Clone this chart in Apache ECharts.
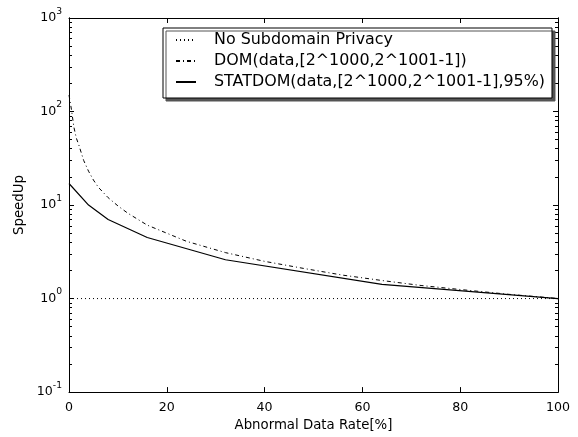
<!DOCTYPE html>
<html>
<head>
<meta charset="utf-8">
<script src="https://cdn.jsdelivr.net/npm/echarts@6/dist/echarts.min.js"></script>
<style>html,body{margin:0;padding:0;background:#fff}#c{width:578px;height:437px}</style>
</head>
<body>
<div id="c"></div>
<script>
// ---- data ----
const seriesNames = [
  'No Subdomain Privacy',
  'DOM(data,[2^1000,2^1001-1])',
  'STATDOM(data,[2^1000,2^1001-1],95%)'
];
const noPrivRate = [0, 100];
const noPrivSpeed = [1, 1];
const domRate = [0, 0.5, 1, 1.5, 2, 3, 4, 5, 6, 8, 10, 12, 16, 20, 24, 32, 40, 48, 56, 64, 72, 80, 90, 100];
const domSpeed = [150, 105, 68, 52, 44, 30, 23, 18.5, 15.5, 12, 9.8, 8.2, 6.1, 5, 4.1, 3.1, 2.5, 2.1, 1.78, 1.56, 1.38, 1.25, 1.11, 1.0];
const statRate = [0, 4, 8, 16, 32, 64, 100];
const statSpeed = [17, 10, 7, 4.5, 2.6, 1.42, 1.0];
const xTicks = [0, 20, 40, 60, 80, 100];
const yDecades = [0.1, 1, 10, 100, 1000];

const pairs = (xs, ys) => xs.map((x, i) => [x, ys[i]]);
const minorVals = [];
yDecades.slice(0, -1).forEach(d => { for (let k = 2; k <= 9; k++) minorVals.push(+(d * k).toPrecision(3)); });

const FONT = 'DejaVu Sans';
const black = '#000';

function yLabel(v) {
  const e = Math.round(Math.log10(v));
  return '{b|10}{s|' + e + '}';
}

const baseY = {
  type: 'log', logBase: 10, min: 0.1, max: 1000,
  splitLine: { show: false },
  axisLine: { show: true, lineStyle: { color: black, width: 1 } }
};

const chart = echarts.init(document.getElementById('c'), null, { renderer: 'canvas' });
chart.setOption({
  animation: false,
  backgroundColor: '#fff',
  grid: { left: 69, right: 20, top: 18, bottom: 40, containLabel: false },
  legend: {
    orient: 'vertical',
    left: 163, top: 28,
    padding: [3, 7, 7, 12],
    itemWidth: 20, itemHeight: 14, itemGap: 3,
    backgroundColor: '#fff',
    borderColor: '#000', borderWidth: 1, borderRadius: 0,
    shadowColor: '#555', shadowBlur: 0, shadowOffsetX: 3, shadowOffsetY: 3,
    itemStyle: { opacity: 0 },
    textStyle: { fontFamily: FONT, fontSize: 15.9, lineHeight: 18, color: black, padding: [0, 0, 0, 13] },
    data: seriesNames
  },
  xAxis: [
    {
      type: 'value', min: 0, max: 100, interval: 20, position: 'bottom',
      name: 'Abnormal Data Rate[%]', nameLocation: 'middle', nameGap: 22,
      nameTextStyle: { fontFamily: FONT, fontSize: 13.3, color: black },
      axisLine: { show: true, lineStyle: { color: black, width: 1 } },
      axisTick: { show: true, inside: true, length: 5, lineStyle: { color: black } },
      axisLabel: { fontFamily: FONT, fontSize: 12.6, color: black, margin: 9,
        customValues: xTicks },
      splitLine: { show: false }
    },
    {
      type: 'value', min: 0, max: 100, interval: 20, position: 'top',
      axisLine: { show: true, lineStyle: { color: black, width: 1 } },
      axisTick: { show: true, inside: true, length: 5, lineStyle: { color: black } },
      axisLabel: { show: false },
      splitLine: { show: false }
    }
  ],
  yAxis: [
    Object.assign({}, baseY, {
      position: 'left',
      name: 'SpeedUp', nameLocation: 'middle', nameGap: 35, nameRotate: 90,
      nameTextStyle: { fontFamily: FONT, fontSize: 13.3, color: black },
      axisTick: { show: true, inside: true, length: 5, lineStyle: { color: black }, customValues: yDecades },
      axisLabel: {
        margin: 7, formatter: yLabel, customValues: yDecades,
        rich: {
          b: { fontFamily: FONT, fontSize: 12.6, color: black, lineHeight: 22 },
          s: { fontFamily: FONT, fontSize: 9.2, color: black, lineHeight: 11, verticalAlign: 'top' }
        }
      }
    }),
    Object.assign({}, baseY, {
      position: 'left',
      axisTick: { show: true, inside: true, length: 3, lineStyle: { color: black }, customValues: minorVals },
      axisLabel: { show: false }
    }),
    Object.assign({}, baseY, {
      position: 'right',
      axisTick: { show: true, inside: true, length: 5, lineStyle: { color: black }, customValues: yDecades },
      axisLabel: { show: false }
    }),
    Object.assign({}, baseY, {
      position: 'right',
      axisTick: { show: true, inside: true, length: 3, lineStyle: { color: black }, customValues: minorVals },
      axisLabel: { show: false }
    })
  ],
  series: [
    {
      name: seriesNames[0], type: 'line', data: pairs(noPrivRate, noPrivSpeed),
      showSymbol: false, symbol: 'none',
      lineStyle: { color: black, width: 1, type: [1, 3] },
      itemStyle: { color: black }
    },
    {
      name: seriesNames[1], type: 'line', data: pairs(domRate, domSpeed),
      showSymbol: false, symbol: 'none',
      lineStyle: { color: black, width: 1, type: [4, 3, 1, 3] },
      itemStyle: { color: black }
    },
    {
      name: seriesNames[2], type: 'line', data: pairs(statRate, statSpeed),
      showSymbol: false, symbol: 'none',
      lineStyle: { color: black, width: 1.2, type: 'solid' },
      itemStyle: { color: black }
    }
  ]
});
</script>
</body>
</html>
